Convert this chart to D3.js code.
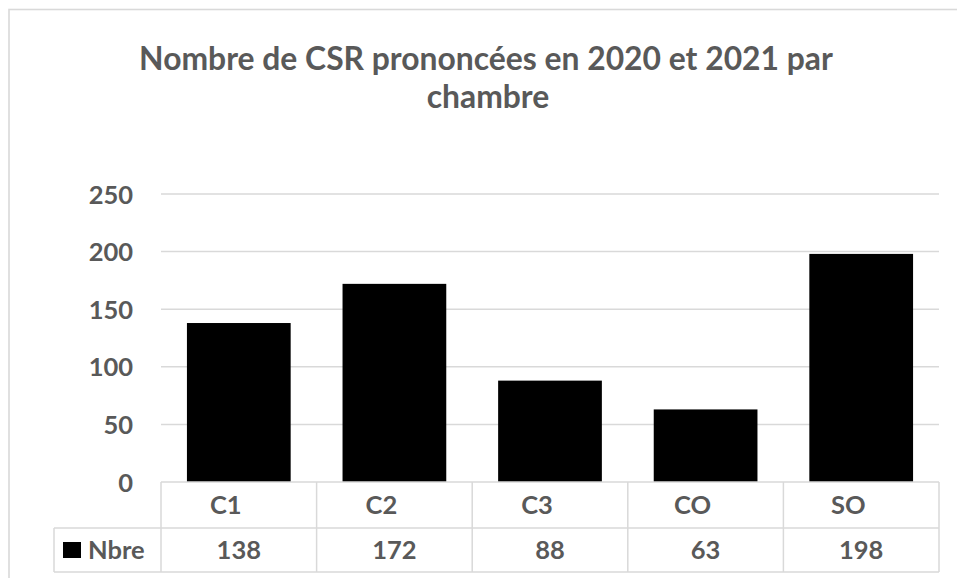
<!DOCTYPE html>
<html>
<head>
<meta charset="utf-8">
<script src="https://cdn.jsdelivr.net/npm/d3@7"></script>
<style>
  html, body { margin: 0; padding: 0; background: #fff; }
  svg { display: block; }
  text { font-family: Lato, "Open Sans", sans-serif; font-weight: 700; fill: #595959; }
</style>
</head>
<body>
<svg id="chart" width="957" height="578"></svg>
<script>
const categories = ["C1", "C2", "C3", "CO", "SO"];
const values = [138, 172, 88, 63, 198];
const seriesName = "Nbre";
const yTicks = [0, 50, 100, 150, 200, 250];
const titleLines = ["Nombre de CSR prononcées en 2020 et 2021 par", "chambre"];

const W = 957, H = 578;
const plot = { left: 161, right: 939, top: 194, bottom: 482 };
const rowH1 = 46, rowH2 = 44, legendLeft = 54;
const gray = "#d9d9d9";
const fontSize = 25.5;

const svg = d3.select("#chart");
svg.append("rect").attr("width", W).attr("height", H).attr("fill", "#fff");

// chart area border (extends beyond the viewport on right/bottom)
svg.append("rect")
  .attr("x", 9).attr("y", 9.5).attr("width", 1100).attr("height", 1000)
  .attr("fill", "none").attr("stroke", gray).attr("stroke-width", 1.6);

// title
const title = svg.append("g");
const t1 = title.append("text").attr("x", 486).attr("y", 70)
  .attr("text-anchor", "middle").style("font-size", "31px").text(titleLines[0]);
const w1 = t1.node().getComputedTextLength();
const tSize = 31 * 694 / w1;
t1.style("font-size", tSize + "px");
title.append("text").attr("x", 488).attr("y", 108)
  .attr("text-anchor", "middle").style("font-size", tSize + "px").text(titleLines[1]);

// scales
const x = d3.scaleBand().domain(categories).range([plot.left, plot.right]).paddingInner(0).paddingOuter(0);
const y = d3.scaleLinear().domain([0, 250]).range([plot.bottom, plot.top]);

// gridlines
svg.append("g").selectAll("line").data(yTicks.filter(d => d > 0)).join("line")
  .attr("x1", plot.left).attr("x2", plot.right)
  .attr("y1", d => y(d)).attr("y2", d => y(d))
  .attr("stroke", gray).attr("stroke-width", 1.5);

// y axis labels
const yAxis = d3.axisLeft(y).tickValues(yTicks).tickSize(0).tickPadding(28);
const gy = svg.append("g").attr("transform", `translate(${plot.left},0)`).call(yAxis);
gy.select(".domain").remove();
gy.selectAll("text")
  .attr("fill", "#595959")
  .attr("dy", "0.36em")
  .style("font-family", "Lato, 'Open Sans', sans-serif")
  .style("font-weight", 700)
  .style("font-size", fontSize + "px");

// bars
const barW = x.bandwidth() / 1.5;
svg.append("g").selectAll("rect").data(categories).join("rect")
  .attr("x", (d) => x(d) + (x.bandwidth() - barW) / 2)
  .attr("width", barW)
  .attr("y", (d, i) => y(values[i]))
  .attr("height", (d, i) => y(0) - y(values[i]))
  .attr("fill", "#000");

// data table
const tbl = svg.append("g").attr("stroke", gray).attr("stroke-width", 1.5).attr("fill", "none");
const r0 = plot.bottom, r1 = plot.bottom + rowH1, r2 = plot.bottom + rowH1 + rowH2;
tbl.append("line").attr("x1", plot.left).attr("x2", plot.right).attr("y1", r0).attr("y2", r0);
tbl.append("line").attr("x1", legendLeft).attr("x2", plot.right).attr("y1", r1).attr("y2", r1);
tbl.append("line").attr("x1", legendLeft).attr("x2", plot.right).attr("y1", r2).attr("y2", r2);
tbl.append("line").attr("x1", legendLeft).attr("x2", legendLeft).attr("y1", r1).attr("y2", r2);
tbl.selectAll("line.v").data(categories.map(c => x(c)).concat([plot.right])).join("line")
  .attr("class", "v")
  .attr("x1", d => d).attr("x2", d => d).attr("y1", r0).attr("y2", r2);

// category labels
svg.append("g").selectAll("text").data(categories).join("text")
  .attr("x", d => x(d) + x.bandwidth() / 2 - 13)
  .attr("y", r0 + rowH1 / 2 + fontSize * 0.36)
  .attr("text-anchor", "middle")
  .style("font-size", fontSize + "px")
  .text(d => d);

// value labels
svg.append("g").selectAll("text").data(values).join("text")
  .attr("x", (d, i) => x(categories[i]) + x.bandwidth() / 2)
  .attr("y", r1 + rowH2 / 2 + fontSize * 0.36)
  .attr("text-anchor", "middle")
  .style("font-size", fontSize + "px")
  .text(d => d);

// legend key in table
svg.append("rect").attr("x", 63).attr("y", 542).attr("width", 18).attr("height", 16).attr("fill", "#000");
svg.append("text").attr("x", 88).attr("y", r1 + rowH2 / 2 + fontSize * 0.36)
  .style("font-size", fontSize + "px").text(seriesName);
</script>
</body>
</html>
